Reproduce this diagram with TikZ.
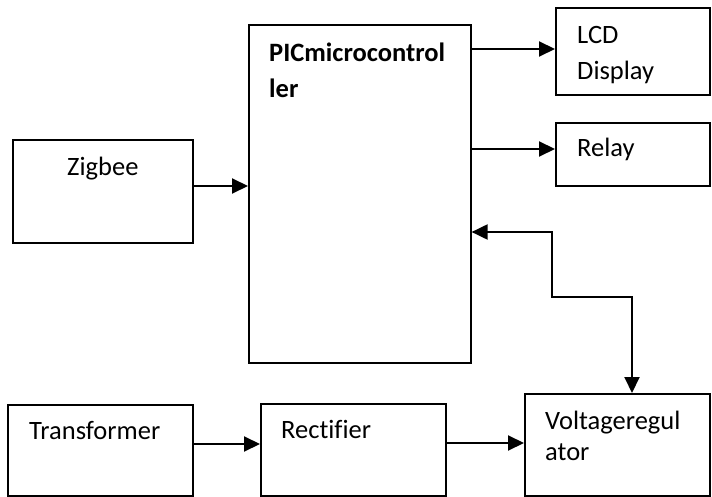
\documentclass[tikz,border=0pt]{standalone}
\usepackage{fontspec}
\setmainfont{Carlito}[Ligatures=NoCommon]
\usetikzlibrary{arrows.meta}
\begin{document}
\begin{tikzpicture}[x=1pt,y=-1pt,
  box/.style={draw=black, line width=1.6pt, anchor=north west, inner sep=0pt},
  lbl/.style={anchor=base west, inner sep=0pt, font=\fontsize{26.5}{30}\selectfont},
  arr/.style={line width=2pt, -{Triangle[length=16pt,width=15pt]}},
  arrb/.style={line width=2pt, {Triangle[length=16pt,width=15pt]}-{Triangle[length=16pt,width=15pt]}}]
\useasboundingbox (0,0) rectangle (712,497);
% boxes
\node[box, minimum width=222pt, minimum height=338pt] (pic) at (248,24) {};
\node[box, minimum width=154pt, minimum height=87pt] (lcd) at (555,7) {};
\node[box, minimum width=154pt, minimum height=63pt] (relay) at (555,122) {};
\node[box, minimum width=180pt, minimum height=103pt] (zig) at (12,139) {};
\node[box, minimum width=185pt, minimum height=91pt] (trans) at (7,404) {};
\node[box, minimum width=185pt, minimum height=92pt] (rect) at (260,403) {};
\node[box, minimum width=185pt, minimum height=102pt] (vr) at (524,393) {};
% labels
\node[lbl, font=\fontsize{26.5}{30}\selectfont\bfseries] (pict1) at (269,62) {PICmicrocontrol};
\node[lbl, font=\fontsize{26.5}{30}\selectfont\bfseries] (pict2) at (269,98) {ler};
\node[lbl] (lcdt1) at (577,44) {LCD};
\node[lbl] (lcdt2) at (577,80) {Display};
\node[lbl] (relayt) at (577,157) {Relay};
\node[lbl] (zigt) at (67,176) {Zigbee};
\node[lbl] (transt) at (29,439) {Transformer};
\node[lbl] (rectt) at (281,438) {Rectifier};
\node[lbl] (vrt1) at (545,429) {Voltageregul};
\node[lbl] (vrt2) at (545,460) {ator};
% connectors
\draw[arr] (pic.east |- 0,49) -- (lcd.west |- 0,49);
\draw[arr] (pic.east |- 0,149) -- (relay.west |- 0,149);
\draw[arr] (zig.east |- 0,186) -- (pic.west |- 0,186);
\draw[arr] (trans.east |- 0,444) -- (rect.west |- 0,444);
\draw[arr] (rect.east |- 0,443) -- (vr.west |- 0,443);
\coordinate (bend) at (552,297);
\draw[arrb] (pic.east |- 0,232) -| (bend) -| (vr.north -| 632,0);
\end{tikzpicture}
\end{document}
